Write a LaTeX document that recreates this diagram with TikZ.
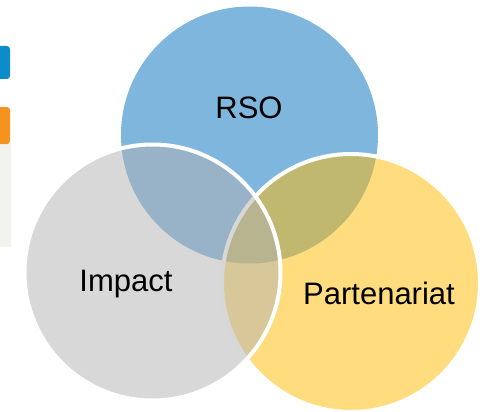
\documentclass[tikz,border=0pt]{standalone}
\usepackage{fontspec}
\setmainfont{Liberation Sans}
\definecolor{rsoblue}{RGB}{0,110,190}
\definecolor{partyellow}{RGB}{255,187,0}
\definecolor{impgray}{RGB}{177,177,177}
\definecolor{tabblue}{RGB}{12,140,200}
\definecolor{taborange}{RGB}{246,146,30}
\definecolor{panelgray}{RGB}{242,242,238}
\begin{document}
\begin{tikzpicture}[x=1pt,y=-1pt,
  venn/.style={circle, minimum size=#1, inner sep=0pt, fill opacity=0.5},
  lbl/.style={font=\fontsize{31}{36}\selectfont, text=black, inner sep=0pt}]
\useasboundingbox (0,0) rectangle (482,412);
% left fragments
\fill[panelgray] (-5,143) rectangle (11,247);
\fill[tabblue, rounded corners=3pt] (-10,46) rectangle (10,79);
\fill[taborange, rounded corners=3pt] (-10,107) rectangle (10,144);
% circles
\node[venn=257pt, fill=rsoblue] (rso) at (249.5,135) {};
\node[venn=258pt, fill=partyellow, draw=white, line width=4pt, draw opacity=1] (part) at (351,283) {};
\node[venn=256pt, fill=impgray, draw=white, line width=4pt, draw opacity=1] (imp) at (152.5,272.5) {};
% labels
\node[lbl] (trso) at (249,107.5) {RSO};
\node[lbl, anchor=base] (timp) at (126,291) {Impact};
\node[lbl, anchor=base] (tpart) at (379,304.5) {Partenariat};
\end{tikzpicture}
\end{document}
